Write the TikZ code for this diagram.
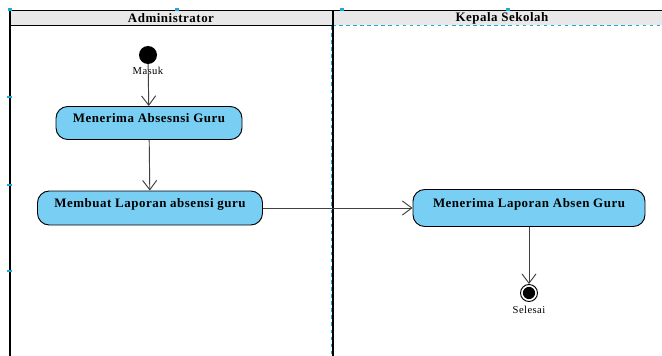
\documentclass[tikz,border=0pt]{standalone}
\usepackage{fontspec}
\setmainfont{Liberation Serif}
\newfontfamily\umlfont[LetterSpace=4]{Liberation Serif}
\usetikzlibrary{shapes,arrows.meta}
\definecolor{actblue}{HTML}{78CFF3}
\definecolor{headgrey}{HTML}{E8E8E8}
\definecolor{handle}{HTML}{1FA9D8}

\begin{document}
\begin{tikzpicture}[x=0.85pt,y=-0.85pt,inner sep=.5mm,minimum size=.5mm,
  activity/.style={rectangle,rounded corners=10pt,draw=black,thick,fill=actblue,
    font=\umlfont\fontsize{11}{13}\selectfont\bfseries,text depth=9pt,inner xsep=6pt},
  flow/.style={draw=black!75,thick,-{Straight Barb[length=8pt,width=12pt]}},
  lane/.style={font=\umlfont\fontsize{11}{13}\selectfont\bfseries}]
\useasboundingbox (0,0) rectangle (662,356);
%Swimlanes
\fill [headgrey] (10,11) rectangle (662,25);
\draw [line width=1.6pt] (10,356) -- (10,10.5) -- (662,10.5);
\draw [thick] (10,25.5) -- (332,25.5);
\draw [thick,handle,dashed] (332,25.5) -- (662,25.5);
\draw [line width=1.2pt] (333,11) -- (333,356);
\draw [thick,handle,dashed] (331,26) -- (331,356);
\node at (171,18) [lane] (LaneAdmin) {Administrator};
\node at (502,18) [lane] (LaneKepsek) {Kepala Sekolah};
%Handles
\foreach \x in {10,177,342,508} \fill [handle] (\x-2,8) rectangle (\x+2,11);
\foreach \y in {97,185,271} \fill [handle] (7,\y-1) rectangle (12,\y+1);
%Node Coordinates
\node at (148,55) [circle,fill=black,minimum size=18*0.85pt] (Start) {};
\node at (149,123) [activity,minimum width=186*0.85pt,minimum height=33*0.85pt] (Act1) {Menerima Absesnsi Guru};
\node at (150,208) [activity,minimum width=225*0.85pt,minimum height=34*0.85pt] (Act2) {Membuat Laporan absensi guru};
\node at (529,208) [activity,minimum width=232*0.85pt,minimum height=37*0.85pt] (Act3) {Menerima Laporan Absen Guru};
\node at (529,293) [circle,draw=black,thick,fill=white,minimum size=17*0.85pt,inner sep=0pt,
  path picture={\fill[black] (path picture bounding box.center) circle (5.2pt);}] (End) {};
%Node Labels
\node [below=1pt,font=\umlfont\fontsize{9}{10}\selectfont] at (Start.south) {Masuk};
\node [below=2pt,font=\umlfont\fontsize{9}{10}\selectfont] at (End.south) {Selesai};
%Connections
\draw [flow] (Start) -- (Act1);
\draw [flow] (Act1) -- (Act2);
\draw [flow] (Act2) -- (Act3);
\draw [flow] (Act3) -- (End);
\end{tikzpicture}
\end{document}
